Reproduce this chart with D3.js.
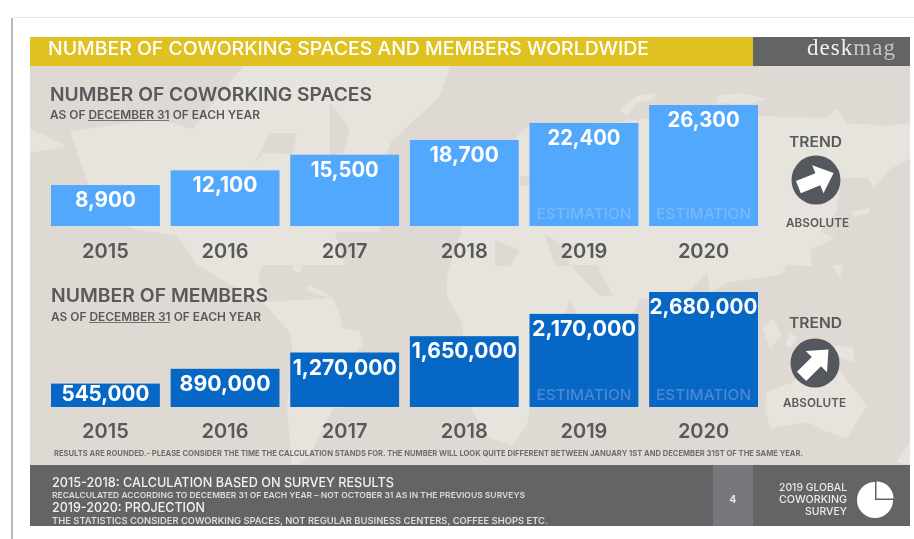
<!DOCTYPE html>
<html><head><meta charset="utf-8">
<script src="https://cdn.jsdelivr.net/npm/d3@7"></script>
<style>html,body{margin:0;padding:0;background:#fff}svg{display:block;filter:blur(.4px)}text{font-family:Inter,"Open Sans",sans-serif}</style>
</head><body><svg id="c" width="914" height="539"></svg>
<script>
const years = ["2015","2016","2017","2018","2019","2020"];
const spaces = [8900,12100,15500,18700,22400,26300];
const members = [545000,890000,1270000,1650000,2170000,2680000];
const estimated = ["2019","2020"];
// decorative world-map backdrop
const mapLand = [
 "M30,129L67,146L30,153Z",
 "M70,131L157,119L193,129L243,66L450,66L440,96L390,143L385,160L380,232L335,232L345,265L295,265L262,265L258,280L268,297L262,302L237,288L197,265L177,236L130,228L90,190Z",
 "M262,302L333,298L340,315L343,328L360,332L363,345L353,355L345,408L333,408L310,455L300,465L292,465L287,408L293,355L290,332Z",
 "M293,265L303,266L301,273L293,271Z M308,285L330,295L328,298L306,290Z",
 "M463,226L510,180L518,135L530,125L617,122L650,118L760,116L827,118L837,109L847,123L887,126L910,123L910,159L890,169L873,189L868,178L842,178L836,212L820,232L835,238L810,250L812,266L787,265L780,275L730,282L710,292L707,272L690,290L640,300L610,355L590,340L570,300L560,330L530,408L527,425L513,445L490,438L470,408L462,323L447,297L447,277L450,266Z",
 "M620,109L637,96L657,93L653,99L637,103L627,116Z",
 "M717,96L740,93L767,99L747,104L717,103Z",
 "M620,275L633,285L620,298Z",
 "M850,212L870,208L868,213L855,217Z",
 "M763,328L773,318L782,335L770,348Z",
 "M785,345L790,333L798,337L790,348Z",
 "M833,345L853,348L855,362L840,358Z",
 "M767,392L793,382L807,368L840,372L867,405L847,438L827,432L807,422L770,428L765,408Z",
 "M833,265L843,265L840,278Z",
 "M897,462L910,442L910,465Z"
];
const mapSea = [
 "M330,103L350,129L343,153L330,155Z",
 "M283,133L297,133L292,154L263,153L253,166L270,133Z",
 "M495,240L520,250L510,266L495,266Z",
 "M545,235L565,245L570,266L555,266Z",
 "M570,265L597,265L613,296L600,296Z",
 "M520,176L530,176L530,185L520,186Z"
];
const W = 914;
const svg = d3.select("#c");
const ink = "#58595b";

svg.append("rect").attr("x",11).attr("y",18).attr("width",2).attr("height",521).attr("fill","#b9b9b9");
svg.append("rect").attr("x",13).attr("y",17).attr("width",W-13).attr("height",1).attr("fill","#e6e6e6");
svg.append("clipPath").attr("id","p").append("rect").attr("x",30).attr("y",66).attr("width",880).attr("height",399);
svg.append("rect").attr("x",30).attr("y",66).attr("width",880).attr("height",399).attr("fill","#dfd9d3");
const mapG=svg.append("g").attr("clip-path","url(#p)");
mapG.selectAll("path.land").data(mapLand).join("path").attr("class","land").attr("d",d=>d).attr("fill","#e6e4dc");
mapG.selectAll("path.sea").data(mapSea).join("path").attr("class","sea").attr("d",d=>d).attr("fill","#dfd9d3");

const band=(x,y,w,h,c)=>svg.append("rect").attr("x",x).attr("y",y).attr("width",w).attr("height",h).attr("fill",c);
band(30,37,723,29,"#dfc221");
band(753,37,157,29,"#636466");
band(30,465,880,61,"#636466");
band(713,465,40,61,"#77787b");

function label(t,x,y,size,width,fill,weight,anchor){
  const el=svg.append("text").attr("x",x).attr("y",y).attr("font-size",size).attr("fill",fill)
    .attr("font-weight",weight||500).attr("text-anchor",anchor||"start").text(t);
  if(width) el.attr("textLength",width).attr("lengthAdjust","spacingAndGlyphs");
  return el;
}
label("NUMBER OF COWORKING SPACES AND MEMBERS WORLDWIDE",48,54.5,18.5,601,"#fff",500);
const dm=svg.append("text").attr("x",807).attr("y",55).attr("font-size",23)
  .style("font-family","'Liberation Serif',serif").attr("textLength",88);
dm.append("tspan").attr("fill","#f1f1f1").text("desk");
dm.append("tspan").attr("fill","#c4c4c4").text("mag");

const x = d3.scaleBand().domain(years).range([51,758]).paddingInner(0.09).paddingOuter(0);

function panel(values, cfg){
  const y = d3.scaleLinear().domain([0,d3.max(values)]).range([cfg.base,cfg.top]);
  const rows = years.map((yr,i)=>({yr,v:values[i]}));
  svg.append("g").selectAll("rect").data(rows).join("rect")
    .attr("x",d=>x(d.yr)).attr("width",x.bandwidth())
    .attr("y",d=>y(d.v)).attr("height",d=>cfg.base-y(d.v))
    .attr("fill",cfg.color);
  rows.forEach(d=>{
    const w=cfg.widths[d.yr];
    label(d3.format(",")(d.v),x(d.yr)+x.bandwidth()/2-w/2,Math.min(y(d.v)+22,cfg.base-6),cfg.size,w,"#fff",700);
  });
  estimated.forEach(yr=>{
    label("ESTIMATION",x(yr)+x.bandwidth()/2-47.5,cfg.base-7.5,15,95,cfg.est,500);
  });
  const ax=svg.append("g").attr("transform",`translate(0,${cfg.axisY})`)
    .call(d3.axisBottom(x).tickSize(0).tickPadding(0));
  ax.select(".domain").remove();
  ax.selectAll("text").attr("font-size",20).attr("fill",ink).attr("font-weight",600)
    .attr("dy",0).attr("y",0).style("font-family","Inter");
}
panel(spaces,{base:226,top:105,axisY:258,color:"#52a8fc",est:"#78b8fa",size:21.5,
  widths:{2015:61,2016:65,2017:68,2018:69,2019:73,2020:72}});
panel(members,{base:407,top:292,axisY:438,color:"#0767c4",est:"#4a88d2",size:22,
  widths:{2015:88,2016:91,2017:104,2018:105,2019:104,2020:108}});

function heading(t,x0,w,y0,subY,ulx,ulw){
  label(t,x0,y0,18.5,w,ink,600);
  label("AS OF DECEMBER 31 OF EACH YEAR",x0,subY,11.5,210,ink,600);
  svg.append("line").attr("x1",ulx).attr("x2",ulx+ulw).attr("y1",subY+1.5).attr("y2",subY+1.5).attr("stroke",ink).attr("stroke-width",.8);
}
heading("NUMBER OF COWORKING SPACES",50,322,101,119,88,81);
heading("NUMBER OF MEMBERS",51,217,302,321,89,81);

function trend(cx,cy,angle,tx,ty,ax,ay){
  label("TREND",tx,ty,14.5,53,ink,600);
  svg.append("circle").attr("cx",cx).attr("cy",cy).attr("r",24.5).attr("fill","#54575e");
  svg.append("path").attr("transform",`translate(${cx},${cy}) rotate(${angle})`)
    .attr("d","M-19,-6.5H2V-15L19,0L2,15V6.5H-19Z").attr("fill","#fff");
  label("ABSOLUTE",ax,ay,12,63,ink,600);
}
trend(816,180,-22,789,147,786,227);
trend(815,363,-45,789,328,783,407);

label("RESULTS ARE ROUNDED.- PLEASE CONSIDER THE TIME THE CALCULATION STANDS FOR. THE NUMBER WILL LOOK QUITE DIFFERENT BETWEEN JANUARY 1ST AND DECEMBER 31ST OF THE SAME YEAR.",54,456,7.6,749,"#6d6d6d",700);

label("2015-2018: CALCULATION BASED ON SURVEY RESULTS",52,487,13.4,342,"#f1f1f1",500);
label("RECALCULATED ACCORDING TO DECEMBER 31 OF EACH YEAR – NOT OCTOBER 31 AS IN THE PREVIOUS SURVEYS",52,497.5,8.2,473,"#dcdcdc",600);
label("2019-2020: PROJECTION",52,512,13.4,153,"#f1f1f1",500);
label("THE STATISTICS CONSIDER COWORKING SPACES, NOT REGULAR BUSINESS CENTERS, COFFEE SHOPS ETC.",52,524,8.4,496,"#dcdcdc",600);
label("4",733,503,10,null,"#e8e8e8",700,"middle");
[["2019 GLOBAL",68],["COWORKING",68],["SURVEY",42]].forEach(([t,w],i)=>label(t,847-w,491+i*12.2,10.5,w,"#eaeaea",500));

const arc=d3.arc().innerRadius(0);
const pieG=svg.append("g").attr("transform","translate(875,500)");
pieG.append("path").attr("d",arc({outerRadius:18,startAngle:Math.PI/2,endAngle:2*Math.PI})).attr("fill","#fff");
pieG.append("path").attr("transform","translate(1.5,-1.5)").attr("d",arc({outerRadius:17,startAngle:0,endAngle:Math.PI/2})).attr("fill","#fff");
</script></body></html>
